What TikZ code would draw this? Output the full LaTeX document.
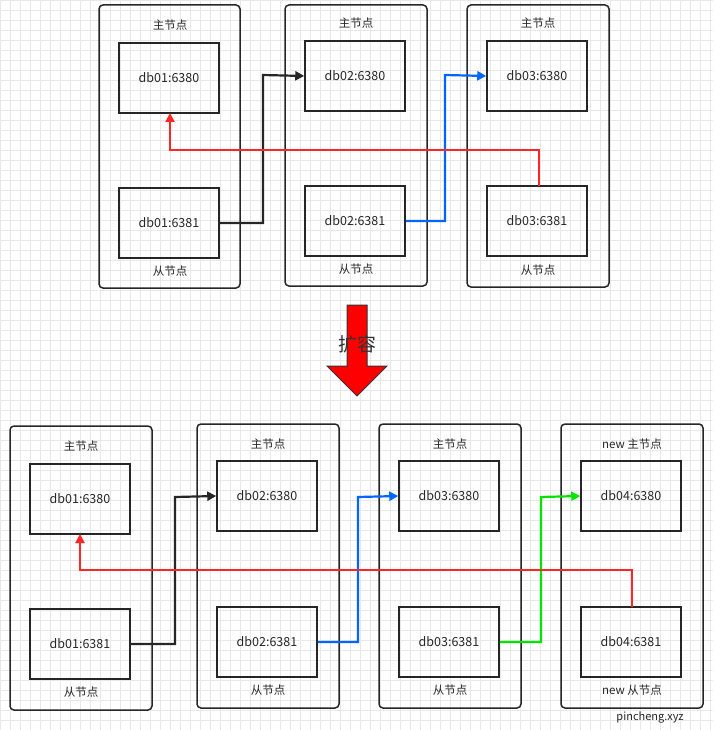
\documentclass[tikz,border=0pt]{standalone}
\usepackage{fontspec}
\setmainfont{Noto Sans CJK SC}
\usetikzlibrary{arrows.meta}
\begin{document}
\begin{tikzpicture}[x=1pt,y=-1pt,
 outer/.style={draw=black!85,line width=1.5pt,rounded corners=4pt},
 inner/.style={draw=black!85,line width=1.5pt},
 lbl/.style={font=\fontsize{11.5}{13}\selectfont,text=black!85},
 dbt/.style={font=\fontsize{12.5}{14}\selectfont,text=black!85},
 con/.style={line width=2.2pt,-{Triangle[length=9pt,width=9pt]}}]
\useasboundingbox (0,0) rectangle (713,730);
\foreach \i in {0,10,...,710} {\draw[black!9,line width=0.5pt] (\i,0) -- (\i,730);}
\foreach \i in {0,10,...,730} {\draw[black!9,line width=0.5pt] (0,\i) -- (713,\i);}
% top row
\draw[outer] (99,5) rectangle (240,288);
\draw[outer] (285,5) rectangle (427,286);
\draw[outer] (467,5) rectangle (609,287);
\node[lbl] at (170,25) {主节点};
\node[lbl] at (356,23) {主节点};
\node[lbl] at (538,23) {主节点};
\node[lbl] at (170,271) {从节点};
\node[lbl] at (356,269) {从节点};
\node[lbl] at (538,270) {从节点};
\node[inner,dbt,minimum width=100pt,minimum height=70pt] (a1) at (169,78) {db01:6380};
\node[inner,dbt,minimum width=100pt,minimum height=70pt] (a2) at (169,223) {db01:6381};
\node[inner,dbt,minimum width=100pt,minimum height=70pt] (b1) at (355,76) {db02:6380};
\node[inner,dbt,minimum width=100pt,minimum height=70pt] (b2) at (355,221) {db02:6381};
\node[inner,dbt,minimum width=100pt,minimum height=70pt] (c1) at (537,76) {db03:6380};
\node[inner,dbt,minimum width=100pt,minimum height=70pt] (c2) at (537,221) {db03:6381};
\draw[con,black!85] (a2.east) -- (263,223) -- (263,75) -- (b1.west);
\draw[con,blue!60!cyan] (b2.east) -- (445,221) -- (445,75) -- (c1.west);
\draw[con,red!85] (539,186) -- (539,150) -- (170,150) -- (170,113);
% arrow
\draw[fill=red,draw=black!80,line width=1pt] (347,305) -- (367,305) -- (367,366) -- (387,366) -- (357,396) -- (327,366) -- (347,366) -- cycle;
\node[text=black!80] (kr) at (357,344) {\fontsize{19}{22}\selectfont 扩容};
% bottom row
\draw[outer] (10,426) rectangle (152,710);
\draw[outer] (197,424) rectangle (339,708);
\draw[outer] (379,424) rectangle (521,708);
\draw[outer] (561,424) rectangle (703,708);
\node[lbl] at (81,446) {主节点};
\node[lbl] at (268,444) {主节点};
\node[lbl] at (450,444) {主节点};
\node[lbl] at (632,444) {new 主节点};
\node[lbl] at (81,692) {从节点};
\node[lbl] at (268,690) {从节点};
\node[lbl] at (450,690) {从节点};
\node[lbl] at (632,690) {new 从节点};
\node[inner,dbt,minimum width=100pt,minimum height=70pt] (d1) at (80,499) {db01:6380};
\node[inner,dbt,minimum width=100pt,minimum height=70pt] (d2) at (80,644) {db01:6381};
\node[inner,dbt,minimum width=100pt,minimum height=70pt] (e1) at (267,496) {db02:6380};
\node[inner,dbt,minimum width=100pt,minimum height=70pt] (e2) at (267,642) {db02:6381};
\node[inner,dbt,minimum width=100pt,minimum height=70pt] (f1) at (449,496) {db03:6380};
\node[inner,dbt,minimum width=100pt,minimum height=70pt] (f2) at (449,642) {db03:6381};
\node[inner,dbt,minimum width=100pt,minimum height=70pt] (g1) at (631,496) {db04:6380};
\node[inner,dbt,minimum width=100pt,minimum height=70pt] (g2) at (631,642) {db04:6381};
\draw[con,black!85] (d2.east) -- (175,644) -- (175,497) -- (e1.west);
\draw[con,blue!60!cyan] (e2.east) -- (358,642) -- (358,497) -- (f1.west);
\draw[con,green!90!black] (f2.east) -- (541,642) -- (541,497) -- (g1.west);
\draw[con,red!85] (632,607) -- (632,570) -- (80,570) -- (80,534);
\node[font=\fontsize{11}{12}\selectfont,text=black!85] at (650,717) {pincheng.xyz};
\end{tikzpicture}
\end{document}
